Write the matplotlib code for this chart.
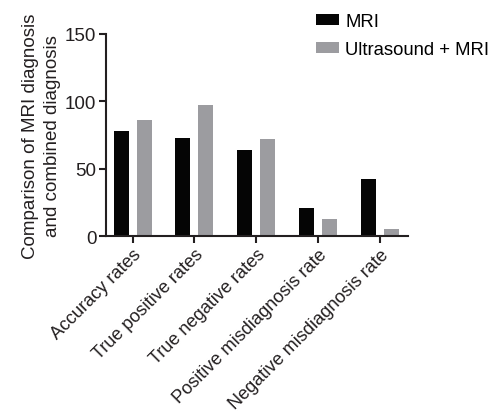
import matplotlib
matplotlib.use("Agg")
import matplotlib.pyplot as plt
import numpy as np

plt.rcParams["font.family"] = ["Liberation Sans", "DejaVu Sans"]

CATEGORIES = [
    "Accuracy rates",
    "True positive rates",
    "True negative rates",
    "Positive misdiagnosis rate",
    "Negative misdiagnosis rate",
]
MRI = [78, 73, 64, 21, 42]
COMBINED = [86, 97, 72, 13, 5]
SERIES = ["MRI", "Ultrasound + MRI"]
Y_TICKS = [0, 50, 100, 150]

fig = plt.figure(figsize=(4.93, 4.14), dpi=100)
ax = fig.add_axes([0.215, 0.4275, 0.613, 0.488])

x = np.arange(len(CATEGORIES))
w = 0.243
off = 0.186
ax.bar(x - off, MRI, w, color="#050505", label=SERIES[0])
ax.bar(x + off, COMBINED, w, color="#9c9ca0", label=SERIES[1])

ax.set_xlim(-0.43, 4.46)
ax.set_ylim(0, 150)
ax.set_yticks(Y_TICKS)
ax.set_xticks(x)
ax.set_xticklabels(CATEGORIES, rotation=45, ha="right", rotation_mode="anchor",
                   fontsize=13.1, color="#231f20")
ax.tick_params(axis="y", labelsize=13.5, length=5, width=1.5, colors="#231f20", pad=2)
ax.tick_params(axis="x", length=5, width=1.5, colors="#231f20", pad=2)
for s in ("top", "right"):
    ax.spines[s].set_visible(False)
for s in ("left", "bottom"):
    ax.spines[s].set_linewidth(1.5)
    ax.spines[s].set_color("#231f20")

ax.set_ylabel("Comparison of MRI diagnosis\nand combined diagnosis",
              fontsize=13.5, color="#231f20", labelpad=3, linespacing=1.4)

ax.legend(loc="upper left", bbox_to_anchor=(0.672, 1.14), frameon=False,
          fontsize=13.3, handlelength=1.2, handleheight=0.55, handletextpad=0.35,
          labelspacing=0.6, borderaxespad=0)

fig.savefig("out.png", dpi=100)
